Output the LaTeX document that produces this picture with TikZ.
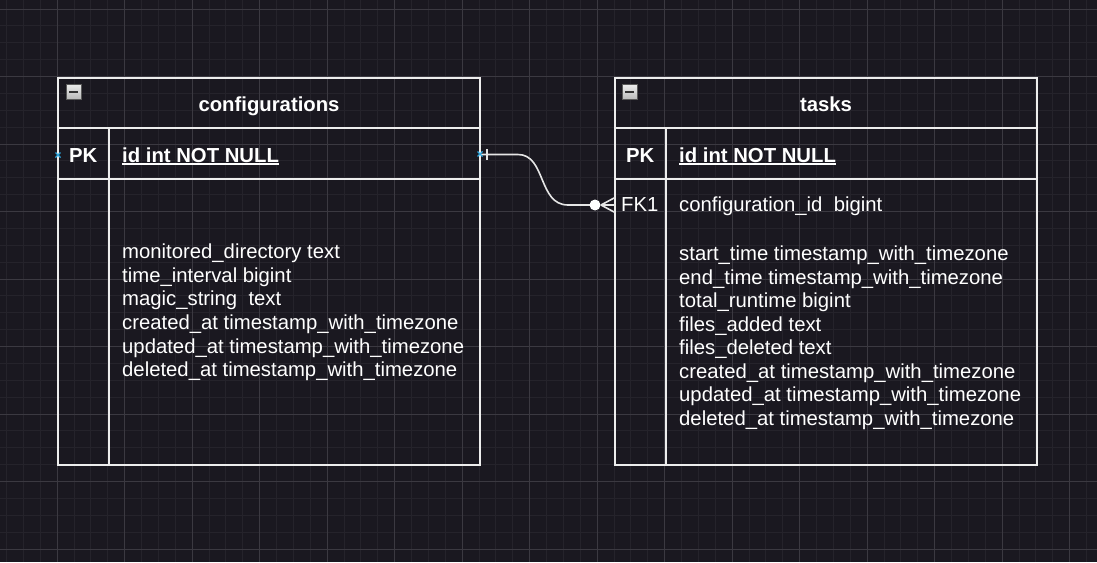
\documentclass[tikz,border=0pt]{standalone}
\usepackage{fontspec}
\setmainfont{Liberation Sans}
\definecolor{bgc}{HTML}{1A1820}
\definecolor{minorc}{HTML}{25232B}
\definecolor{majorc}{HTML}{3B3941}
\definecolor{borderc}{HTML}{EDEDED}
\definecolor{linkc}{HTML}{E6E6E6}
\definecolor{markc}{HTML}{2DA8E0}
\begin{document}
\begin{tikzpicture}[x=1pt,y=-1pt,
  minorline/.style={draw=minorc,line width=1},
  majorline/.style={draw=majorc,line width=1},
  tablebox/.style={draw=borderc,line width=2,rectangle,inner sep=0},
  rowline/.style={draw=borderc,line width=2},
  txt/.style={inner sep=0,text=white,font=\fontsize{20.3}{23.5}\selectfont,anchor=base west},
  btxt/.style={txt,font=\fontsize{20.3}{23.5}\selectfont\bfseries},
  link/.style={draw=linkc,line width=1.6},
  minusbox/.style={draw=gray!70!black,line width=1,top color=gray!15,bottom color=gray!55,rectangle,minimum size=15,inner sep=0},
  marker/.style={draw=markc,line width=1.2}
]
\useasboundingbox (0,0) rectangle (1097,562);
\fill[bgc] (0,0) rectangle (1097,562);
% grid
\foreach \i in {0,...,65} {\draw[minorline] ({6.575+16.875*\i},0) -- ++(0,562);}
\foreach \j in {0,...,33} {\draw[minorline] (0,{9+16.875*\j}) -- ++(1097,0);}
\foreach \i in {0,...,15} {\draw[majorline] ({57.2+67.5*\i},0) -- ++(0,562);}
\foreach \j in {0,...,8} {\draw[majorline] (0,{9+67.5*\j}) -- ++(1097,0);}

% ===== configurations table =====
\node[tablebox,minimum width=422,minimum height=387] (cfg) at (269,271.5) {};
\draw[rowline] (58,128) -- (480,128);
\draw[rowline] (58,179) -- (480,179);
\draw[rowline] (109,128) -- (109,465);
\node[minusbox] (cfgmin) at (73.5,91.5) {};
\draw[line width=2,draw=black!80] ([xshift=3.5]cfgmin.west) -- ([xshift=-3.5]cfgmin.east);
\node[btxt,anchor=base] (cfgtitle) at (269,111) {configurations};
\node[btxt] (cfgpk) at (69,162) {PK};
\node[btxt] (cfgid) at (122,162) {id int NOT NULL};
\draw[white,line width=1.6] ([yshift=-2.2]cfgid.base west) -- ([yshift=-2.2]cfgid.base east);
\node[txt] (c1) at (122,258.3) {monitored\_directory text};
\node[txt] (c2) at (122,282.0) {time\_interval bigint};
\node[txt] (c3) at (122,305.7) {magic\_string\ \ text};
\node[txt] (c4) at (122,329.4) {created\_at timestamp\_with\_timezone};
\node[txt] (c5) at (122,353.1) {updated\_at timestamp\_with\_timezone};
\node[txt] (c6) at (122,376.8) {deleted\_at timestamp\_with\_timezone};

% ===== tasks table =====
\node[tablebox,minimum width=422,minimum height=387] (tasks) at (826,271.5) {};
\draw[rowline] (615,128) -- (1037,128);
\draw[rowline] (615,179) -- (1037,179);
\draw[rowline] (666,128) -- (666,465);
\node[minusbox] (tmin) at (629.5,92) {};
\draw[line width=2,draw=black!80] ([xshift=3.5]tmin.west) -- ([xshift=-3.5]tmin.east);
\node[btxt,anchor=base] (ttitle) at (826,111) {tasks};
\node[btxt] (tpk) at (626,162) {PK};
\node[btxt] (tid) at (679,162) {id int NOT NULL};
\draw[white,line width=1.6] ([yshift=-2.2]tid.base west) -- ([yshift=-2.2]tid.base east);
\node[txt] (tfk) at (621,211.7) {FK1};
\node[txt] (t0) at (679,211.7) {configuration\_id\ \ bigint};
\node[txt] (t1) at (679,260.7) {start\_time timestamp\_with\_timezone};
\node[txt] (t2) at (679,284.2) {end\_time timestamp\_with\_timezone};
\node[txt] (t3) at (679,307.6) {total\_runtime bigint};
\node[txt] (t4) at (679,331.1) {files\_added text};
\node[txt] (t5) at (679,354.6) {files\_deleted text};
\node[txt] (t6) at (679,378.0) {created\_at timestamp\_with\_timezone};
\node[txt] (t7) at (679,401.5) {updated\_at timestamp\_with\_timezone};
\node[txt] (t8) at (679,425.0) {deleted\_at timestamp\_with\_timezone};

% ===== connector =====
\coordinate (srcpt) at (480,154.5);
\coordinate (dstpt) at (615,205);
\coordinate (circ) at (595,205);
\draw[link] (srcpt) -- (518,154.5) .. controls (546,154.5) and (538,205) .. (568,205) -- (circ);
\draw[link] (487,149) -- (487,160);
\fill[white] (circ) circle (5.5);
\draw[link] (601,205) -- (dstpt);
\draw[link] (601,205) -- (615,197.5);
\draw[link] (601,205) -- (615,212.5);
% connection markers
\coordinate (mk1) at (58,155);
\coordinate (mk2) at (480,154);
\foreach \m in {mk1,mk2} {
  \draw[marker] ([shift={(-2.5,-2.5)}]\m) -- ([shift={(2.5,2.5)}]\m);
  \draw[marker] ([shift={(-2.5,2.5)}]\m) -- ([shift={(2.5,-2.5)}]\m);
}
\end{tikzpicture}
\end{document}
